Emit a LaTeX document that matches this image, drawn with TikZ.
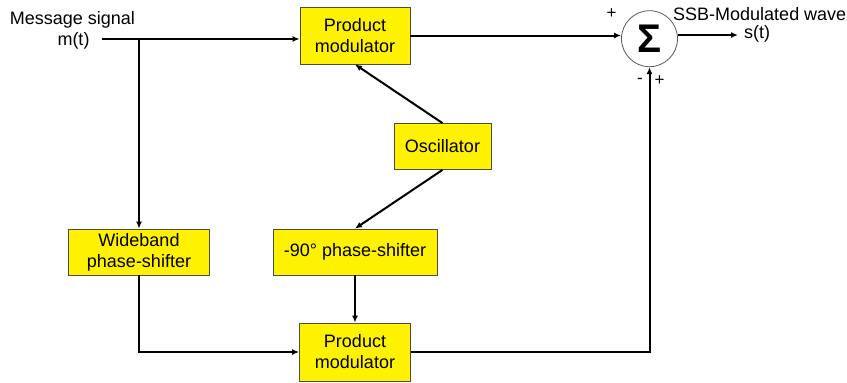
\documentclass[tikz,border=0pt]{standalone}
\usepackage{fontspec}
\setmainfont{Liberation Sans}
\usetikzlibrary{arrows.meta,calc}
\begin{document}
\begin{tikzpicture}[x=1pt,y=-1pt,
  blk/.style={draw=gray!60!black, line width=0.8pt, fill=yellow, inner sep=0pt, align=center, font=\fontsize{18}{21}\selectfont},
  conn/.style={line width=2pt, -{Latex[length=7pt,width=6pt]}},
  lbl/.style={font=\fontsize{18}{21}\selectfont, inner sep=0pt},
  sgn/.style={font=\fontsize{17}{17}\selectfont, inner sep=0pt}]
\useasboundingbox (0,0) rectangle (847,383);
\node[blk, minimum width=110pt, minimum height=57pt] (pm1) at (355,35.5) {Product\\modulator};
\node[blk, minimum width=97pt, minimum height=46pt] (osc) at (442.5,146.5) {Oscillator};
\node[blk, minimum width=164pt, minimum height=46pt] (ps) at (355,252) {-90° phase-shifter};
\node[blk, minimum width=141pt, minimum height=46pt] (wb) at (139,252) {Wideband\\phase-shifter};
\node[blk, minimum width=111pt, minimum height=58pt] (pm2) at (355,352) {Product\\modulator};
\node[circle, draw=gray!70!black, line width=0.8pt, minimum size=56pt, inner sep=0pt,
  font=\bfseries\fontsize{40}{40}\selectfont] (sum) at (649.5,38.7) {Σ};
\node[lbl] (msg) at (72.5,20) {Message signal};
\node[lbl] (mt) at (73.5,41) {m(t)};
\node[lbl, anchor=west] (ssb) at (673,14) {SSB-Modulated wave};
\node[lbl] (st) at (757,34) {s(t)};
\node[sgn] (p1) at (611.5,14) {+};
\node[sgn] (m1) at (640,81) {-};
\node[sgn] (p2) at (659.5,81) {+};
\coordinate (in) at (102,39);
\coordinate (br) at (139,39);
\coordinate (out) at (738,35);
\draw[conn] (in) -- (in -| pm1.west);
\draw[conn] (br) -- (wb.north);
\draw[conn] (wb.south) |- (pm2.west);
\draw[conn] (osc.north) -- (pm1.south);
\draw[conn] (osc.south) -- (ps.north);
\draw[conn] (ps.south) -- (pm2.north);
\draw[conn] (pm1.east) -- (pm1.east -| sum.west);
\draw[conn] (pm2.east) -| (sum.south);
\draw[conn] (sum.east |- out) -- (out);
\end{tikzpicture}
\end{document}
